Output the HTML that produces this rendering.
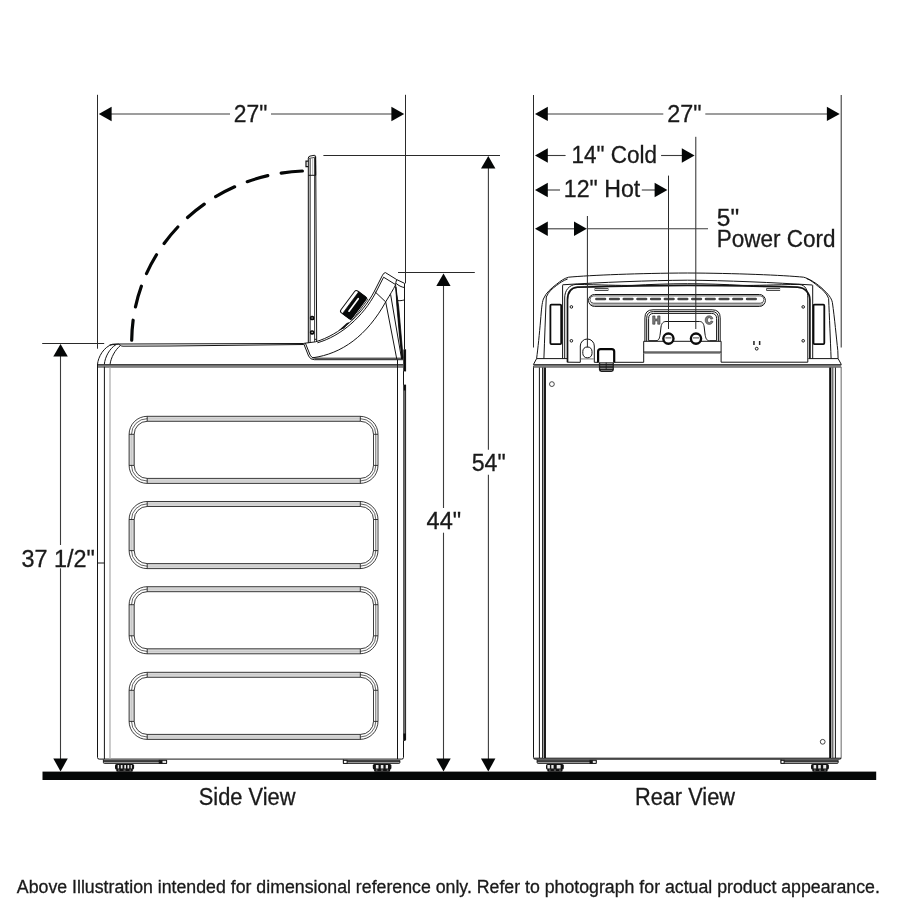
<!DOCTYPE html>
<html>
<head>
<meta charset="utf-8">
<title>Washer dimensions</title>
<style>
html,body{margin:0;padding:0;background:#fff;}
body{width:900px;height:900px;overflow:hidden;font-family:"Liberation Sans",sans-serif;}
svg{display:block;will-change:transform;}
text{font-family:"Liberation Sans",sans-serif;fill:#1a1a1a;stroke:#1a1a1a;stroke-width:0.3px;}
.ext{stroke:#2a2a2a;stroke-width:1;fill:none;}
.dim{stroke:#3c3c3c;stroke-width:1.1;fill:none;}
.ar{fill:#050707;stroke:none;}
.ln{stroke:#141414;stroke-width:1;fill:none;}
.lg{stroke:#9a9a9a;stroke-width:1.1;fill:none;}
.th{stroke:#1a1a1a;stroke-width:1.6;fill:none;}
.d22{font-size:22px;}
</style>
</head>
<body>
<svg width="900" height="900" viewBox="0 0 900 900">
<rect x="0" y="0" width="900" height="900" fill="#fff"/>

<!-- ===== floor ===== -->
<rect x="42.5" y="771.6" width="833.7" height="8.4" fill="#050707"/>



<!-- ===== captions ===== -->
<text x="198.79" y="804.6" font-size="23" textLength="96.65" lengthAdjust="spacingAndGlyphs">Side View</text>
<text x="634.92" y="804.6" font-size="23" textLength="100.07" lengthAdjust="spacingAndGlyphs">Rear View</text>
<text x="16.88" y="892.9" font-size="17.6" textLength="862.95" lengthAdjust="spacingAndGlyphs">Above Illustration intended for dimensional reference only. Refer to photograph for actual product appearance.</text>

<!-- SIDEVIEW-START -->
<g id="side-view">
  <!-- dashed lid swing arc -->
  <path id="arc" d="M302.4,171 A178,171 0 0 0 131.7,340.2" fill="none" stroke="#050707" stroke-width="3.2" stroke-dasharray="21.4,13.6" stroke-linecap="round"/>

  <!-- lid (open, vertical) -->
  <path d="M308.3,158 L310.3,158 L310.3,342.6 L308.3,342.8 Z" fill="#c4c4c4" stroke="none"/>
  <path class="ln" d="M308.3,342.9 L308.3,158.2 Q308.3,156.4 310,156.1 L314.2,155.3 Q315.6,155.2 315.7,156.8 L316.7,341.8"/>
  <path d="M310.3,158.6 L310.3,342.6" stroke="#333" stroke-width="0.8" fill="none"/>
  <path d="M309,158.4 L314.4,157.4 L315.6,156" stroke="#222" stroke-width="0.8" fill="none"/>
  <path d="M312.7,158 L312.7,175" stroke="#aaa" stroke-width="0.9" fill="none"/>
  <path d="M314.6,157.6 L314.6,341.8" stroke="#222" stroke-width="0.9" fill="none"/>
  <path d="M315.4,157 L315.6,175.3" stroke="#111" stroke-width="1.2" fill="none"/>
  <path class="ln" d="M308.3,175.3 L315.9,175.3 M314.6,339.3 L316.6,339.3"/>
  <path d="M308.3,161.2 L306,161.2 L306,166.6 L308.3,166.6" stroke="#111" stroke-width="1.2" fill="none"/>
  <rect x="310.7" y="316.6" width="2.8" height="2.8" rx="1" fill="#fff" stroke="#0a0a0a" stroke-width="1.7"/>
  <rect x="310.7" y="331" width="2.8" height="2.8" rx="1" fill="#fff" stroke="#0a0a0a" stroke-width="1.7"/>

  <!-- top cover -->
  <path class="ln" d="M97.5,364.5 C98,357 104,346.5 112.7,344.2 L119,344 L303.5,343.5"/>
  <path class="ln" d="M104.3,364.5 C105,357 109.5,348.5 116,344.6"/>
  <path class="ln" d="M110,364.5 C111,357.5 115,350 120.5,345.4"/>
  <path class="ln" d="M109.5,345 Q114,344.4 118.6,344.1 L120.5,345.4 Q121,346.1 123,346.2 L170,346 L303.8,344.5"/>

  <!-- cabinet -->
  <rect x="97.5" y="364.4" width="306" height="3.1" fill="#8c8c8c" stroke="none"/>
  <path d="M97.5,367.2 L403.5,367.2" stroke="#5a5a5a" stroke-width="0.7" fill="none"/>
  <path d="M97.5,364.7 L403.5,364.7" stroke="#1a1a1a" stroke-width="1.1" fill="none"/>
  <path class="ln" d="M97.5,364 L97.5,757.4 Q97.5,759.1 99.2,759.1 L401.8,759.1 Q403.5,759.1 403.5,757.4 L403.5,359.7"/>
  <path class="ln" d="M104.4,366.7 L104.4,759.1 M397.5,359.7 L397.5,759.1 M97.5,563 L104.4,563"/>
  <path d="M110,367.4 L110,759.1" stroke="#b0b0b0" stroke-width="1.3" fill="none"/>
  <!-- dark strip on rear edge -->
  <path d="M404.5,349.5 L404.5,371.3 M404.5,384.8 L404.5,741" stroke="#6e6e6e" stroke-width="2.6" fill="none"/>
  <path d="M405.6,349.5 L405.6,371.3 M405.6,384.8 L405.6,740" stroke="#1a1a1a" stroke-width="0.9" fill="none"/>
  <path d="M404.7,349.5 L404.7,371.3 M404.7,384.8 L404.7,390.5" stroke="#0a0a0a" stroke-width="1.9" fill="none"/>
  <path d="M403.4,733.5 L405.8,733.5 L405.8,739.4 L403.6,741.6 Z" fill="#0a0a0a"/>

  <!-- base plates + feet -->
  <g>
    <rect x="103.4" y="760.4" width="63.2" height="3" fill="#a8a8a8"/>
    <path d="M103.4,761.1 L166.6,761.1" stroke="#141414" stroke-width="1.5" fill="none"/>
    <path d="M103.4,759.4 L103.4,762.4 Q103.4,763.4 104.4,763.4 L165.6,763.4 Q166.6,763.4 166.6,762.4 L166.6,760.4" stroke="#141414" stroke-width="0.9" fill="none"/>
    <rect x="159.2" y="760.3" width="7.4" height="3.1" fill="#e6e6e6" stroke="#141414" stroke-width="0.9"/>
    <rect x="159.2" y="760.3" width="3.3" height="3.1" fill="#141414"/>
    <rect x="343.4" y="760.4" width="56.5" height="3" fill="#a8a8a8"/>
    <path d="M343.4,761.1 L399.9,761.1" stroke="#141414" stroke-width="1.5" fill="none"/>
    <path d="M343.4,759.4 L343.4,762.4 Q343.4,763.4 344.4,763.4 L398.9,763.4 Q399.9,763.4 399.9,762.4 L399.9,760.4" stroke="#141414" stroke-width="0.9" fill="none"/>
    <rect x="343.4" y="760.3" width="3.7" height="3.1" fill="#fff" stroke="#141414" stroke-width="1"/>
    <rect x="115.0" y="763.9" width="19.1" height="5.6" rx="1.6" fill="#141414"/>
    <rect x="116.3" y="768.6" width="16.5" height="3.2" rx="1" fill="#141414"/>
    <rect x="117.7" y="765" width="1.4" height="3.5" fill="#e8e8e8"/>
    <rect x="120.8" y="765" width="1.7" height="3.5" fill="#e8e8e8"/>
    <rect x="124.3" y="765" width="1.7" height="3.5" fill="#e8e8e8"/>
    <rect x="127.5" y="765" width="1.7" height="3.5" fill="#e8e8e8"/>
    <rect x="130.7" y="765" width="1.2" height="3.5" fill="#e8e8e8"/>
    <path d="M118.0,770.1 h1.6 M123.5,770.1 h2 M129.5,770.1 h1.6" stroke="#ddd" stroke-width="0.6" fill="none"/>
    <rect x="372.8" y="763.9" width="18.6" height="5.6" rx="1.6" fill="#141414"/>
    <rect x="374.1" y="768.6" width="16.0" height="3.2" rx="1" fill="#141414"/>
    <rect x="375.9" y="765" width="2.6" height="3.5" fill="#e8e8e8"/>
    <rect x="380.8" y="765" width="2.6" height="3.5" fill="#e8e8e8"/>
    <rect x="385.7" y="765" width="2.3" height="3.5" fill="#e8e8e8"/>
    <path d="M375.8,770.1 h1.6 M381.1,770.1 h2 M386.8,770.1 h1.6" stroke="#ddd" stroke-width="0.6" fill="none"/>
  </g>

  <!-- embossed side panels -->
  <g>
    <rect x="131.5" y="418.7" width="244.3" height="62.3" rx="15.6" ry="15.6" fill="none" stroke="#222" stroke-width="0.7"/>
    <path d="M147.2,416.3 H360.3 V421.3 H147.2 Z M147.2,478.4 H360.3 V483.4 H147.2 Z M129.1,434.3 H134.3 V465.4 H129.1 Z" fill="#d4d4d4" fill-opacity="0.9" stroke="none"/>
    <rect x="129.1" y="416.3" width="248.9" height="67.1" rx="18.1" ry="18.1" fill="none" stroke="#0c0c0c" stroke-width="0.8"/>
    <rect x="134.2" y="421.3" width="239.3" height="57.1" rx="13" ry="13" fill="none" stroke="#0c0c0c" stroke-width="0.8"/>
    <path d="M147.2,416.3 V421.3 M360.3,416.3 V421.3 M147.2,478.4 V483.4 M360.3,478.4 V483.4 M129.1,434.3 H134.2 M129.1,465.4 H134.2 M373.5,434.3 H378 M373.5,465.4 H378" fill="none" stroke="#0c0c0c" stroke-width="0.8"/>
  </g>
  <g transform="translate(0,85.2)">
    <rect x="131.5" y="418.7" width="244.3" height="62.3" rx="15.6" ry="15.6" fill="none" stroke="#222" stroke-width="0.7"/>
    <path d="M147.2,416.3 H360.3 V421.3 H147.2 Z M147.2,478.4 H360.3 V483.4 H147.2 Z M129.1,434.3 H134.3 V465.4 H129.1 Z" fill="#d4d4d4" fill-opacity="0.9" stroke="none"/>
    <rect x="129.1" y="416.3" width="248.9" height="67.1" rx="18.1" ry="18.1" fill="none" stroke="#0c0c0c" stroke-width="0.8"/>
    <rect x="134.2" y="421.3" width="239.3" height="57.1" rx="13" ry="13" fill="none" stroke="#0c0c0c" stroke-width="0.8"/>
    <path d="M147.2,416.3 V421.3 M360.3,416.3 V421.3 M147.2,478.4 V483.4 M360.3,478.4 V483.4 M129.1,434.3 H134.2 M129.1,465.4 H134.2 M373.5,434.3 H378 M373.5,465.4 H378" fill="none" stroke="#0c0c0c" stroke-width="0.8"/>
  </g>
  <g transform="translate(0,170.4)">
    <rect x="131.5" y="418.7" width="244.3" height="62.3" rx="15.6" ry="15.6" fill="none" stroke="#222" stroke-width="0.7"/>
    <path d="M147.2,416.3 H360.3 V421.3 H147.2 Z M147.2,478.4 H360.3 V483.4 H147.2 Z M129.1,434.3 H134.3 V465.4 H129.1 Z" fill="#d4d4d4" fill-opacity="0.9" stroke="none"/>
    <rect x="129.1" y="416.3" width="248.9" height="67.1" rx="18.1" ry="18.1" fill="none" stroke="#0c0c0c" stroke-width="0.8"/>
    <rect x="134.2" y="421.3" width="239.3" height="57.1" rx="13" ry="13" fill="none" stroke="#0c0c0c" stroke-width="0.8"/>
    <path d="M147.2,416.3 V421.3 M360.3,416.3 V421.3 M147.2,478.4 V483.4 M360.3,478.4 V483.4 M129.1,434.3 H134.2 M129.1,465.4 H134.2 M373.5,434.3 H378 M373.5,465.4 H378" fill="none" stroke="#0c0c0c" stroke-width="0.8"/>
  </g>
  <g transform="translate(0,256)">
    <rect x="131.5" y="418.7" width="244.3" height="62.3" rx="15.6" ry="15.6" fill="none" stroke="#222" stroke-width="0.7"/>
    <path d="M147.2,416.3 H360.3 V421.3 H147.2 Z M147.2,478.4 H360.3 V483.4 H147.2 Z M129.1,434.3 H134.3 V465.4 H129.1 Z" fill="#d4d4d4" fill-opacity="0.9" stroke="none"/>
    <rect x="129.1" y="416.3" width="248.9" height="67.1" rx="18.1" ry="18.1" fill="none" stroke="#0c0c0c" stroke-width="0.8"/>
    <rect x="134.2" y="421.3" width="239.3" height="57.1" rx="13" ry="13" fill="none" stroke="#0c0c0c" stroke-width="0.8"/>
    <path d="M147.2,416.3 V421.3 M360.3,416.3 V421.3 M147.2,478.4 V483.4 M360.3,478.4 V483.4 M129.1,434.3 H134.2 M129.1,465.4 H134.2 M373.5,434.3 H378 M373.5,465.4 H378" fill="none" stroke="#0c0c0c" stroke-width="0.8"/>
  </g>

  <!-- control console -->
  <!-- outer lower shell -->
  <path class="ln" d="M303.6,343.4 L308.6,356 Q310.2,359.7 314.4,359.7 L403.5,359.7"/>
  <path class="ln" d="M305.4,343.2 L310.2,355.2 Q311.6,358.2 315,358.2 L402.2,358.2"/>
  <!-- upper curve (double) -->
  <path class="ln" d="M303.6,343.4 L315.6,341.8 C340,334.6 362,314.6 374.2,291.6 L382.2,275.8 Q383.6,272.6 385.4,272.6 L396.7,279.6 L404.5,283.3 L404.5,349.6"/>
  <path class="ln" d="M317.4,342.8 C341.4,336 363.4,316 375.6,292.9 L383.6,277.2 L395.6,284.6"/>
  <!-- big lower curve -->
  <path class="ln" d="M312.6,357.8 C342,353.8 367,335.6 385.7,301.9 C390,294.6 393.4,289.4 395.6,284.8"/>
  <!-- cross line + downward lines -->
  <path class="ln" d="M374.6,291.4 L385.7,301.9 L396.8,359.2"/>
  <path class="ln" d="M390.6,294.4 L401.6,359"/>
  <path class="ln" d="M396.7,279.6 C396,281.6 395.6,283 395.6,284.8 L402.3,359"/>
  <path class="ln" d="M396.2,283.4 C398.4,285.6 401.4,287 404.6,287.6"/>
  <path class="ln" d="M397.3,300.6 C399.6,300.9 402.4,300.6 404.6,299.8"/>
  <path d="M395.8,287 L398.6,306 L403.2,358.6 L401.9,358.7 L399.3,334 L396.9,306 Z" fill="#0c0c0c" stroke="#0c0c0c" stroke-width="0.8"/>
  <!-- knob -->
  <g transform="translate(353.4,304.8) rotate(-53.4)">
    <rect x="-13.6" y="-7" width="27.2" height="13.6" rx="2.2" fill="#fff" stroke="#111" stroke-width="1"/>
    <path d="M-13.6,-3.5 L13.6,-3.5 L13.6,7 L-13.6,7 Z" fill="#060808" stroke="#060808" stroke-width="0.6"/>
    <rect x="-8.6" y="-0.6" width="17.2" height="1.7" rx="0.85" fill="#fff"/>
    <path d="M-13,8.3 L13.4,8.3" stroke="#1a1a1a" stroke-width="0.8" fill="none"/>
  </g>
  <path d="M338.6,330.6 L346.8,323 L349.6,322 L344,328.4 Z" fill="#111"/>
</g>
<!-- SIDEVIEW-END -->
<!-- REARVIEW-START -->
<g id="rear-view">
  <!-- cabinet -->
  <path class="ln" d="M533.5,366 L533.5,757.6 Q533.5,759.2 535.2,759.2 L839.6,759.2 Q841.2,759.2 841.2,757.6"/>
  <path d="M841.2,367 L841.2,757.8" stroke="#8a8a8a" stroke-width="1.3" fill="none"/>
  <path class="ln" d="M534,758.2 L841,758.2"/>
  <path class="ln" d="M539.4,367 L539.4,758 M835.4,367 L835.4,758 M542.6,367 L542.6,758 M832.8,367 L832.8,758"/>
  <path d="M543.6,367 L543.6,758 M831.7,367 L831.7,758" stroke="#a0a0a0" stroke-width="1.2" fill="none"/>
  <path d="M545,366.6 L545,758 M830.1,366.6 L830.1,758" stroke="#050505" stroke-width="1.8" fill="none"/>
  <circle cx="551.9" cy="384.1" r="2.4" fill="none" stroke="#333" stroke-width="0.9"/>
  <circle cx="822.7" cy="741.8" r="2.4" fill="none" stroke="#333" stroke-width="0.9"/>
  <!-- base plates and feet -->
  <g>
    <rect x="537.1" y="760.4" width="59.1" height="3" fill="#a8a8a8"/>
    <path d="M537.1,761.1 L596.2,761.1" stroke="#141414" stroke-width="1.5" fill="none"/>
    <path d="M537.1,759.4 L537.1,762.4 Q537.1,763.4 538.1,763.4 L595.2,763.4 Q596.2,763.4 596.2,762.4 L596.2,760.4" stroke="#141414" stroke-width="0.9" fill="none"/>
    <rect x="590.0" y="760.3" width="6.2" height="3.1" fill="#e6e6e6" stroke="#141414" stroke-width="0.9"/>
    <rect x="590.0" y="760.3" width="2.8" height="3.1" fill="#141414"/>
    <rect x="781.0" y="760.4" width="57.2" height="3" fill="#a8a8a8"/>
    <path d="M781.0,761.1 L838.2,761.1" stroke="#141414" stroke-width="1.5" fill="none"/>
    <path d="M781.0,759.4 L781.0,762.4 Q781.0,763.4 782.0,763.4 L837.2,763.4 Q838.2,763.4 838.2,762.4 L838.2,760.4" stroke="#141414" stroke-width="0.9" fill="none"/>
    <rect x="781.0" y="760.3" width="3.1" height="3.1" fill="#fff" stroke="#141414" stroke-width="1"/>
    <rect x="546.0" y="763.9" width="17.8" height="5.6" rx="1.6" fill="#141414"/>
    <rect x="547.3" y="768.6" width="15.2" height="3.2" rx="1" fill="#141414"/>
    <rect x="547.4" y="765" width="2.5" height="3.5" fill="#e8e8e8"/>
    <rect x="551.3" y="765" width="2.3" height="3.5" fill="#e8e8e8"/>
    <rect x="556.7" y="765" width="3.9" height="3.5" fill="#e8e8e8"/>
    <path d="M549.0,770.1 h1.6 M553.9,770.1 h2 M559.2,770.1 h1.6" stroke="#ddd" stroke-width="0.6" fill="none"/>
    <rect x="811.0" y="763.9" width="17.9" height="5.6" rx="1.6" fill="#141414"/>
    <rect x="812.3" y="768.6" width="15.3" height="3.2" rx="1" fill="#141414"/>
    <rect x="813.6" y="765" width="2.6" height="3.5" fill="#e8e8e8"/>
    <rect x="818.2" y="765" width="2.6" height="3.5" fill="#e8e8e8"/>
    <rect x="823.2" y="765" width="3.0" height="3.5" fill="#e8e8e8"/>
    <path d="M814.0,770.1 h1.6 M819.0,770.1 h2 M824.3,770.1 h1.6" stroke="#ddd" stroke-width="0.6" fill="none"/>
  </g>

  <!-- top band of cabinet -->
  <rect x="533.5" y="364.4" width="307.7" height="3.1" fill="#8c8c8c" stroke="none"/>
  <path d="M533.5,367.2 L841.2,367.2" stroke="#5a5a5a" stroke-width="0.7" fill="none"/>
  <path d="M533.5,364.7 L841.2,364.7" stroke="#1a1a1a" stroke-width="1.1" fill="none"/>

  <!-- top cover outer silhouette -->
  <path class="ln" d="M533.4,364.6 L536.6,358.6 C538,348 539.4,334 540.6,320 C541.4,310 542,302.6 543.4,299 C546,292.6 551.6,288 556.6,284.2 C560.6,281 564,278.4 568.6,277.2 C590,275.2 640,273.2 687.4,273 C734.6,273.2 784,275.2 803.6,277.2 C809.4,278.6 817.6,284 823.2,289.4 C828,294 831.4,297.6 832.4,302.6 C834.6,318 836.4,338 837.8,350.6 L838.1,358.6 L841.4,364.6"/>
  <!-- inner side lines -->
  <path class="ln" d="M543.9,358.6 C544.6,340 545.4,316 546.3,297 C548.6,291.4 552.6,288.4 556.6,285.4 C560,282.8 563.4,280.4 567.6,279"/>
  <path class="ln" d="M831.1,358.6 C830.4,340 829.4,316 828.6,298.4 C827,293.6 822.6,289.6 818.2,286.4 C814.6,283.4 811,280.2 806.6,278.6"/>
  <!-- middle roof line -->
  <path class="ln" d="M562.6,284.8 C600,282.4 650,280.4 687.4,280.2 C725,280.4 775,282.6 812.4,285"/>
  <path class="ln" d="M562.6,285.2 L562.6,358.6 M812.7,285.2 L812.7,358.6"/>
  <path class="ln" d="M536.6,358.6 L567,358.6 M808.4,358.6 L838.1,358.6"/>

  <!-- back panel -->
  <path class="ln" d="M564.7,358.6 L564.7,298 C564.7,290.4 569,285 576,284.4 C600,284.8 620,285.6 632,285.4 C650,284.4 670,283.7 687.4,283.7 C705,283.7 725,284.4 743,285.4 C755,285.6 775,284.8 799,284.4 C806,285 807.8,290.4 807.8,298 L807.8,362.2"/>
  <path d="M567.5,362.2 L567.5,300 C567.5,292.6 571,287.8 577.5,287.2 C610,286.4 650,285.5 687.4,285.4 C725,285.5 765,286.4 797.5,287.2 C805,287.8 809.9,292.6 809.9,300 L809.9,358.6" stroke="#141414" stroke-width="1.7" fill="none"/>
  <!-- panel bottom edge with keyhole and valve block -->
  <path class="ln" d="M567.3,362.2 L580.3,362.3 L580.3,346 A7,7 0 0 1 594.3,346 L594.3,362.3 L643.7,362.3 L643.7,341.3 L721.1,341.3 L721.1,362.2 L807.8,362.2"/>
  <path d="M580.9,358.9 L594,358.9" stroke="#9a9a9a" stroke-width="1.3" fill="none"/>
  <rect class="ln" x="582.8" y="347" width="9.2" height="10.8" rx="4.2" ry="4.4"/>
  <!-- handles -->
  <rect x="550.4" y="304.7" width="10.8" height="39.4" rx="1" fill="#fff" stroke="#0c0c0c" stroke-width="1.8"/>
  <rect x="813.5" y="304.7" width="10.8" height="39.4" rx="1" fill="#fff" stroke="#0c0c0c" stroke-width="1.8"/>
  <!-- screws -->
  <circle class="ln" cx="571.4" cy="306.9" r="1.3"/><circle class="ln" cx="571.4" cy="340.8" r="1.3"/>
  <circle class="ln" cx="803.2" cy="306.9" r="1.3"/><circle class="ln" cx="803.2" cy="340.8" r="1.3"/>
  <!-- tabs -->
  <rect x="595" y="288.6" width="13" height="1.9" fill="#ddd" stroke="#222" stroke-width="0.8"/>
  <rect x="766.7" y="288.6" width="13" height="1.9" fill="#ddd" stroke="#222" stroke-width="0.8"/>
  <!-- vent slot -->
  <path d="M593,303.2 L761,303.2 Q764.6,302.6 763.6,305 L762,306.3 L592,306.3 Q589.6,305 590.6,303.6 Z" fill="#b4b4b4" stroke="none"/>
  <rect class="ln" x="588.5" y="294.5" width="176.9" height="11.9" rx="5.95" ry="5.95"/>
  <rect x="590" y="295.9" width="173.9" height="7.3" rx="3.65" ry="3.65" fill="#fff" stroke="#333" stroke-width="0.8"/>
  <path d="M596.4,299 L758,299" stroke="#454545" stroke-width="2.6" stroke-dasharray="8.6,5.1" stroke-linecap="round" fill="none"/>
  <!-- outlet mark -->
  <rect x="753.2" y="341" width="1.5" height="4" fill="#222"/><rect x="758.9" y="341" width="1.5" height="4" fill="#222"/>
  <circle class="ln" cx="756.7" cy="348.7" r="1.4"/>
  <!-- power cord strain relief -->
  <path d="M598.1,362.6 L598.1,351.6 Q598.1,349.1 600.6,349.1 L611.7,349.1 Q614.2,349.1 614.2,351.6 L614.2,362.6" fill="#fff" stroke="#060606" stroke-width="2.2"/>
  <path d="M598.9,362.4 L613.9,362.4 L613.9,369.6 Q613.9,372 611.4,372 L601.4,372 Q598.9,372 598.9,369.6 Z" fill="#1c1c1c"/>
  <path d="M600.2,363.4 H612.6 M600.2,368.3 H612.6" stroke="#e0e0e0" stroke-width="0.7" fill="none"/>
  <path d="M600.2,365.8 H612.6 M601,370.4 H612" stroke="#8a8a8a" stroke-width="0.8" fill="none"/>
  <path d="M606.2,362.6 V369.6" stroke="#1c1c1c" stroke-width="0.9" fill="none"/>

  <!-- valve housing -->
  <path class="ln" d="M644.9,341.3 L644.9,317.8 Q644.9,309.8 653,309.8 L712.2,309.8 Q720.2,309.8 720.2,317.8 L720.2,341.3"/>
  <path class="ln" d="M646.7,341.3 L646.7,318.2 Q646.7,311.6 653.4,311.6 L711.8,311.6 Q718.4,311.6 718.4,318.2 L718.4,341.3"/>
  <path class="ln" d="M648.6,340.7 L648.6,318.6 Q648.6,313.4 653.8,313.4 L711.4,313.4 Q716.6,313.4 716.6,318.6 L716.6,340.7"/>
  <path class="ln" d="M648.6,340.7 L656,340.7 C659,340.7 659.6,338 660.2,334 L661,327 C661.6,323 663.4,321.5 666,321.5 L699.4,321.5 C702,321.5 703.6,323 704.2,327 L705,334 C705.6,338 706.4,340.7 709.4,340.7 L716.6,340.7"/>
  <path d="M643.7,352.1 L721.1,352.1" stroke="#1a1a1a" stroke-width="1.4" fill="none"/>
  <path class="lg" d="M643.7,353.4 L721.1,353.4"/>
  <circle cx="668.4" cy="338.6" r="5.1" fill="#fff" stroke="#0c0c0c" stroke-width="2.4"/>
  <circle cx="696" cy="338.6" r="5.1" fill="#fff" stroke="#0c0c0c" stroke-width="2.4"/>
  <path d="M665.4,337.8 H671.4 M693,337.8 H699" stroke="#666" stroke-width="1.2" fill="none"/>
  <path d="M652.7,315.9 h2.3 v3.1 h2.7 v-3.1 h2.3 v8.3 h-2.3 v-3.3 h-2.7 v3.3 h-2.3 z" fill="#7d7d7d" stroke="#333" stroke-width="0.6"/>
  <path d="M712.9,318.6 C712.3,316.7 711,315.8 709.2,315.8 C706.7,315.8 705.2,317.5 705.2,320.1 C705.2,322.7 706.7,324.4 709.2,324.4 C711,324.4 712.4,323.4 713,321.5 L710.9,320.9 C710.6,321.9 710.1,322.5 709.2,322.5 C708.1,322.5 707.5,321.6 707.5,320.1 C707.5,318.6 708.1,317.7 709.2,317.7 C710,317.7 710.5,318.2 710.8,319.2 Z" fill="#7d7d7d" stroke="#333" stroke-width="0.6"/>
</g>
<!-- REARVIEW-END -->
<!-- ===== SIDE VIEW dimensions ===== -->
<g id="side-dims">
  <!-- 27" top -->
  <line class="ext" x1="97.5" y1="94.8" x2="97.5" y2="348.7"/>
  <line class="ext" x1="405.5" y1="94.8" x2="405.5" y2="283.4"/>
  <line class="dim" x1="111" y1="114" x2="230" y2="114"/>
  <line class="dim" x1="271" y1="114" x2="392" y2="114"/>
  <polygon class="ar" points="98.8,114 111.6,106.8 111.6,121.2"/>
  <polygon class="ar" points="404.2,114 391.4,106.8 391.4,121.2"/>
  <text x="233.75" y="122.4" font-size="23" textLength="33.55" lengthAdjust="spacingAndGlyphs">27"</text>

  <!-- 37 1/2" -->
  <line class="ext" x1="42.2" y1="343.5" x2="104.2" y2="343.5"/>
  <line class="dim" x1="60.5" y1="356" x2="60.5" y2="545"/>
  <line class="dim" x1="60.5" y1="568.3" x2="60.5" y2="759"/>
  <polygon class="ar" points="60.55,343.9 53.3,356.4 67.8,356.4"/>
  <polygon class="ar" points="60.55,771.4 53.3,758.5 67.8,758.5"/>
  <text x="21.45" y="566.6" font-size="23" textLength="73.42" lengthAdjust="spacingAndGlyphs">37 1/2"</text>

  <!-- 44" -->
  <line class="ext" x1="398" y1="272.5" x2="474.8" y2="272.5"/>
  <line class="dim" x1="443.5" y1="286" x2="443.5" y2="508"/>
  <line class="dim" x1="443.5" y1="532.7" x2="443.5" y2="759"/>
  <polygon class="ar" points="443.5,273.4 436.3,286.1 450.6,286.1"/>
  <polygon class="ar" points="443.5,771.4 436.3,758.6 450.7,758.6"/>
  <text x="426.60" y="529.2" font-size="23" textLength="34.54" lengthAdjust="spacingAndGlyphs">44"</text>

  <!-- 54" -->
  <line class="ext" x1="323.4" y1="155.5" x2="500" y2="155.5"/>
  <line class="dim" x1="488.4" y1="168" x2="488.4" y2="449.7"/>
  <line class="dim" x1="488.4" y1="474.7" x2="488.4" y2="759"/>
  <polygon class="ar" points="488.3,156 481,168.4 495.4,168.4"/>
  <polygon class="ar" points="488.3,771.4 481,758.6 495.4,758.6"/>
  <text x="471.73" y="470.9" font-size="23" textLength="33.94" lengthAdjust="spacingAndGlyphs">54"</text>
</g>

<!-- ===== REAR VIEW dimensions ===== -->
<g id="rear-dims">
  <line class="ext" x1="533.5" y1="95" x2="533.5" y2="347.5"/>
  <line class="ext" x1="841.2" y1="95" x2="841.2" y2="347.5"/>
  <!-- 27" -->
  <line class="dim" x1="547" y1="114" x2="663.3" y2="114"/>
  <line class="dim" x1="705.3" y1="114" x2="828" y2="114"/>
  <polygon class="ar" points="535,113.9 547.8,106.7 547.8,121.1"/>
  <polygon class="ar" points="839.7,113.9 826.9,106.7 826.9,121.1"/>
  <text x="667.23" y="122.4" font-size="23" textLength="34.24" lengthAdjust="spacingAndGlyphs">27"</text>
  <!-- 14" Cold -->
  <line class="ext" x1="695.8" y1="136.8" x2="695.8" y2="329"/>
  <line class="dim" x1="547" y1="155.5" x2="565.6" y2="155.5"/>
  <line class="dim" x1="661.1" y1="155.5" x2="682.4" y2="155.5"/>
  <polygon class="ar" points="535,155.5 547.8,148.3 547.8,162.7"/>
  <polygon class="ar" points="694.6,155.5 681.8,148.3 681.8,162.7"/>
  <text x="571.54" y="162.5" font-size="23" textLength="85.53" lengthAdjust="spacingAndGlyphs">14" Cold</text>
  <!-- 12" Hot -->
  <line class="ext" x1="668.5" y1="175.6" x2="668.5" y2="329"/>
  <line class="dim" x1="547" y1="190" x2="560" y2="190"/>
  <line class="dim" x1="641.8" y1="190" x2="655.6" y2="190"/>
  <polygon class="ar" points="535,190 547.8,182.8 547.8,197.2"/>
  <polygon class="ar" points="667.4,190 654.6,182.8 654.6,197.2"/>
  <text x="563.84" y="196.5" font-size="23" textLength="76.41" lengthAdjust="spacingAndGlyphs">12" Hot</text>
  <!-- 5" Power Cord -->
  <line class="ext" x1="587.4" y1="216" x2="587.4" y2="347.4"/>
  <line class="dim" x1="547" y1="228.8" x2="575.4" y2="228.8"/>
  <line class="dim" x1="586.7" y1="228.8" x2="708" y2="228.8"/>
  <polygon class="ar" points="535,228.8 547.8,221.6 547.8,236"/>
  <polygon class="ar" points="586.8,228.8 574,221.6 574,236"/>
  <text x="716.82" y="225.8" font-size="23" textLength="22.33" lengthAdjust="spacingAndGlyphs">5"</text>
  <text x="716.83" y="247.2" font-size="23" textLength="118.74" lengthAdjust="spacingAndGlyphs">Power Cord</text>
</g>

</svg>
</body>
</html>
